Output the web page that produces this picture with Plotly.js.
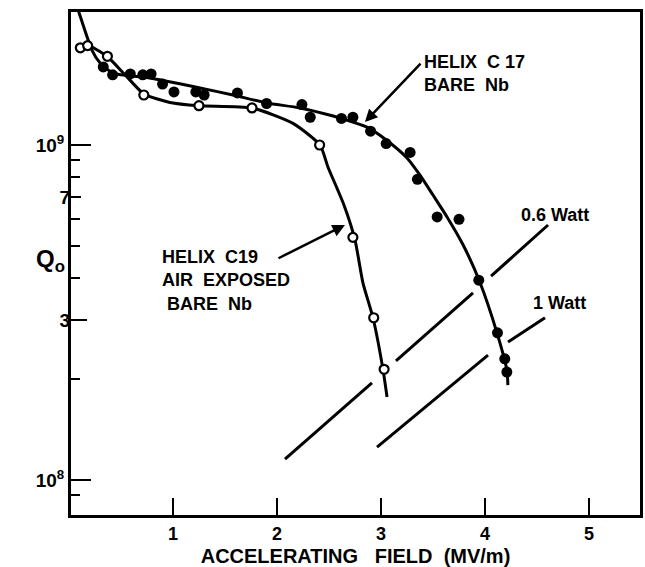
<!DOCTYPE html>
<html>
<head>
<meta charset="utf-8">
<script src="https://cdn.plot.ly/plotly-3.0.1.min.js"></script>
<style>html,body{margin:0;padding:0;background:#fff;}#chart{width:645px;height:567px;}</style>
</head>
<body>
<div id="chart"></div>
<script>
// Helix C17, bare Nb (filled circles)
const c17E = [0.33,0.42,0.59,0.71,0.79,0.90,1.01,1.22,1.30,1.62,1.90,2.24,2.32,2.62,2.73,2.90,3.05,3.28,3.35,3.54,3.75,3.94,4.12,4.19,4.21];
const c17Q = [1.71e9,1.62e9,1.63e9,1.62e9,1.63e9,1.52e9,1.44e9,1.44e9,1.41e9,1.43e9,1.33e9,1.32e9,1.21e9,1.20e9,1.21e9,1.10e9,1.01e9,9.5e8,7.9e8,6.1e8,6.0e8,3.95e8,2.75e8,2.3e8,2.1e8];
// Helix C19, air exposed bare Nb (open circles)
const c19E = [0.11,0.18,0.37,0.72,1.25,1.76,2.41,2.73,2.93,3.03];
const c19Q = [1.95e9,1.98e9,1.84e9,1.41e9,1.31e9,1.29e9,1.0e9,5.3e8,3.05e8,2.14e8];
// hand-drawn fitted curves
const c17CurveE = [0.03,0.096,0.221,0.298,0.423,0.779,1.26,1.577,1.904,2.22,2.54,2.73,2.865,3.06,3.25,3.375,3.50,3.635,3.79,3.95,4.115,4.21,4.22];
const c17CurveQ = [2.86e9,2.49e9,1.92e9,1.76e9,1.64e9,1.585e9,1.48e9,1.41e9,1.335e9,1.29e9,1.22e9,1.17e9,1.13e9,1.03e9,9.15e8,8.13e8,7.09e8,6.10e8,5.03e8,3.90e8,2.75e8,2.13e8,1.92e8];
const c19CurveE = [0.106,0.183,0.365,0.548,0.721,0.971,1.25,1.76,2.154,2.413,2.49,2.644,2.75,2.827,2.923,3.019,3.058];
const c19CurveQ = [1.95e9,1.98e9,1.84e9,1.61e9,1.42e9,1.34e9,1.31e9,1.29e9,1.16e9,1.0e9,8.6e8,6.62e8,5.21e8,3.87e8,3.05e8,2.14e8,1.77e8];
// constant-power lines (segments broken where they cross the curves)
const w06E = [2.077,2.913,null,3.144,3.885,null,4.058,4.606];
const w06Q = [1.155e8,1.948e8,null,2.266e8,3.62e8,null,4.06e8,5.77e8];
const w1E = [2.962,4.029,null,4.221,4.577];
const w1Q = [1.254e8,2.36e8,null,2.58e8,3.05e8];
// axis ticks
const xTicks = [1,2,3,4,5];
const yMajor = [1e8,1e9];
const yMajorText = ['10<sup>8</sup>','10<sup>9</sup>'];
const yMid = [3e8];
const yMidText = ['3'];
const ySmall = [7e8];
const ySmallText = ['7'];
const yMinor = [9e7,2e8,4e8,5e8,6e8,8e8,9e8];

const FONT = 'Liberation Sans, Arial, sans-serif';
const lg = v => Math.log10(v);
const yRange = [7.8955, 9.397];

const traces = [
  {x:c17CurveE, y:c17CurveQ, mode:'lines', line:{color:'#000', width:3, shape:'spline', smoothing:0.6}, showlegend:false, hoverinfo:'skip'},
  {x:c19CurveE, y:c19CurveQ, mode:'lines', line:{color:'#000', width:3, shape:'spline', smoothing:0.6}, showlegend:false, hoverinfo:'skip'},
  {x:c17E, y:c17Q, mode:'markers', marker:{symbol:'circle', size:11, color:'#000'}, name:'HELIX C17', showlegend:false},
  {x:c19E, y:c19Q, mode:'markers', marker:{symbol:'circle', size:9, color:'#fff', line:{color:'#000', width:2.2}}, name:'HELIX C19', showlegend:false},
  {x:w06E, y:w06Q, yaxis:'y2', mode:'lines', line:{color:'#000', width:3}, showlegend:false, connectgaps:false, hoverinfo:'skip'},
  {x:w1E, y:w1Q, yaxis:'y3', mode:'lines', line:{color:'#000', width:3}, showlegend:false, connectgaps:false, hoverinfo:'skip'}
];

const tickFont = {family:FONT, size:18, color:'#000', weight:'bold'};
const yTickFont = {family:FONT, size:19, color:'#000', weight:'bold'};
const labFont = {family:FONT, size:18, color:'#000', weight:'bold'};

const layout = {
  width:645, height:567,
  margin:{l:71, r:5, t:12, b:52},
  paper_bgcolor:'#fff', plot_bgcolor:'#fff',
  showlegend:false,
  xaxis:{
    range:[0.02,5.49], showgrid:false, zeroline:false,
    showline:true, linewidth:3, linecolor:'#000', mirror:true,
    ticks:'inside', ticklen:17, tickwidth:2.5, tickcolor:'#000',
    tickmode:'array', tickvals:xTicks, ticktext:xTicks.map(String),
    tickfont:tickFont,
    title:{text:'ACCELERATING\u00A0\u00A0 FIELD\u00A0 (MV/m)', font:{family:FONT, size:20, color:'#000', weight:'bold'}, standoff:7}
  },
  yaxis:{
    type:'log', range:yRange, showgrid:false, zeroline:false,
    showline:true, linewidth:3, linecolor:'#000', mirror:true,
    ticks:'inside', ticklen:20, tickwidth:2.5, tickcolor:'#000',
    tickmode:'array', tickvals:yMajor, ticktext:yMajorText,
    tickfont:yTickFont,
    minor:{tickmode:'array', tickvals:yMinor, ticks:'inside', ticklen:9, tickwidth:2, tickcolor:'#000', showgrid:false}
  },
  yaxis2:{
    type:'log', range:yRange, overlaying:'y', side:'left', showgrid:false, zeroline:false, showline:false,
    ticks:'inside', ticklen:16, tickwidth:2.5, tickcolor:'#000',
    tickmode:'array', tickvals:yMid, ticktext:yMidText, tickfont:yTickFont
  },
  yaxis3:{
    type:'log', range:yRange, overlaying:'y', side:'left', showgrid:false, zeroline:false, showline:false,
    ticks:'inside', ticklen:10, tickwidth:2.5, tickcolor:'#000',
    tickmode:'array', tickvals:ySmall, ticktext:ySmallText, tickfont:yTickFont
  },
  annotations:[
    {xref:'paper', yref:'paper', x:-0.065, y:0.505, text:'Q<sub>o</sub>', showarrow:false, font:{family:FONT, size:24, color:'#000', weight:'bold'}},
    {xref:'x', yref:'y', x:3.39, y:lg(1.63e9), xanchor:'left', yanchor:'middle', align:'left', showarrow:false,
     text:'HELIX\u00A0\u00A0C 17<br>BARE\u00A0\u00A0Nb', font:labFont},
    {xref:'x', yref:'y', x:0.88, y:lg(3.95e8), xanchor:'left', yanchor:'middle', align:'left', showarrow:false,
     text:'HELIX\u00A0\u00A0C19<br>AIR\u00A0\u00A0EXPOSED<br>\u00A0BARE\u00A0\u00A0Nb', font:labFont},
    {xref:'x', yref:'y', x:4.67, y:lg(6.18e8), showarrow:false, text:'0.6 Watt', font:labFont},
    {xref:'x', yref:'y', x:4.72, y:lg(3.37e8), showarrow:false, text:'1 Watt', font:labFont},
    {xref:'x', yref:'y', x:2.846, y:lg(1.171e9), text:'', showarrow:true, arrowhead:2, arrowsize:1, arrowwidth:2.5, arrowcolor:'#000', ax:57, ay:-60},
    {xref:'x', yref:'y', x:2.654, y:lg(5.77e8), text:'', showarrow:true, arrowhead:2, arrowsize:1, arrowwidth:2.5, arrowcolor:'#000', ax:-68, ay:34}
  ]
};

Plotly.newPlot('chart', traces, layout, {staticPlot:true, displayModeBar:false});
</script>
</body>
</html>
